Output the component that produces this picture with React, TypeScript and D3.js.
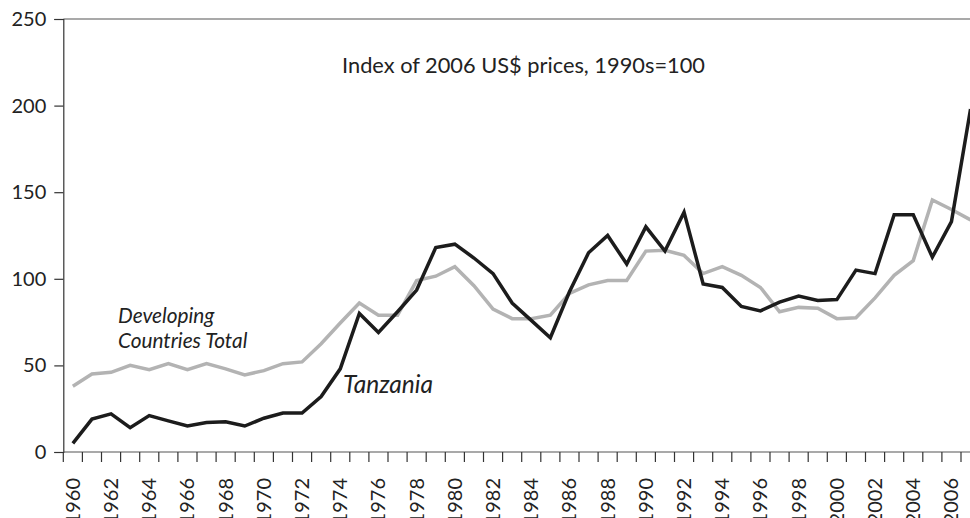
import { useEffect, useRef } from 'react';
import * as d3 from 'd3';

// years on the x axis, 1960-2007
const years = [
  1960, 1961, 1962, 1963, 1964, 1965, 1966, 1967, 1968, 1969,
  1970, 1971, 1972, 1973, 1974, 1975, 1976, 1977, 1978, 1979,
  1980, 1981, 1982, 1983, 1984, 1985, 1986, 1987, 1988, 1989,
  1990, 1991, 1992, 1993, 1994, 1995, 1996, 1997, 1998, 1999,
  2000, 2001, 2002, 2003, 2004, 2005, 2006, 2007,
];

const tanzania = [
  5, 19, 22, 14, 21, 18, 15, 17, 17.5, 15,
  19.5, 22.5, 22.5, 32, 48, 80, 69, 81, 93.5, 118,
  120, 112, 103, 86, 76, 66, 92.5, 115, 125, 108.5,
  130, 116, 138.5, 97, 95, 84, 81.5, 86.5, 90, 87.5,
  88, 105, 103, 137, 137, 112.5, 133, 198,
];

const developing = [
  38, 45, 46, 50, 47.5, 51, 47.5, 51, 48, 44.5,
  47, 51, 52, 62.5, 74.5, 86, 79, 79, 99, 101.5,
  107, 96, 82.5, 77, 77, 79, 91.5, 96.5, 99, 99,
  116, 116.5, 113.5, 103, 107, 102, 95, 81, 83.5, 83,
  77, 77.5, 89, 102, 110.5, 145.5, 140, 134,
];

const yTicks = [0, 50, 100, 150, 200, 250];
const xLabels = years.filter(y => y % 2 === 0 && y <= 2006);

const FONT = 'Lato, "Open Sans", sans-serif';

const App = () => {
  const ref = useRef<SVGSVGElement>(null);

  useEffect(() => {
    const svg = d3.select(ref.current);
    svg.selectAll('*').remove();

    const width = 970;
    const height = 518;
    const left = 63.3;
    const step = 19.1;
    const top = 19;
    const bottom = 452;

    const x = d3.scaleBand<number>()
      .domain(years)
      .range([left, left + step * years.length]);
    const y = d3.scaleLinear().domain([0, 250]).range([bottom, top]);

    svg.attr('width', width).attr('height', height);

    // frame: top line + y axis + x axis
    svg.append('line')
      .attr('x1', left).attr('x2', width)
      .attr('y1', y(250)).attr('y2', y(250))
      .attr('stroke', '#555').attr('stroke-width', 1.2);

    const yAxis = svg.append('g')
      .attr('transform', `translate(${left},0)`)
      .call(d3.axisLeft(y).tickValues(yTicks).tickSize(9).tickPadding(8));
    yAxis.select('.domain').attr('stroke', '#333').attr('stroke-width', 1.2);
    yAxis.selectAll('.tick line').attr('stroke', '#333').attr('stroke-width', 1.2);
    yAxis.selectAll('.tick text')
      .attr('fill', '#222')
      .style('font', `20px ${FONT}`);

    // x axis: ticks sit on the band edges, labels centred in the bands
    const xg = svg.append('g').attr('transform', `translate(0,${bottom})`);
    xg.append('line')
      .attr('x1', left).attr('x2', width)
      .attr('stroke', '#555').attr('stroke-width', 1.2);
    xg.selectAll('line.tk')
      .data(years)
      .join('line')
      .attr('class', 'tk')
      .attr('x1', d => x(d)!).attr('x2', d => x(d)!)
      .attr('y1', 0).attr('y2', 10)
      .attr('stroke', '#333').attr('stroke-width', 1.2);
    xg.selectAll('text')
      .data(xLabels)
      .join('text')
      .attr('transform', d => `translate(${x(d)! + x.bandwidth() / 2},26) rotate(-90)`)
      .attr('text-anchor', 'end')
      .attr('dy', '0.35em')
      .attr('fill', '#222')
      .style('font', `20px ${FONT}`)
      .text(d => d);

    const line = (vals: number[]) => d3.line<number>()
      .x((_, i) => x(years[i])! + x.bandwidth() / 2)
      .y(d => y(d))(vals);

    svg.append('path')
      .attr('d', line(developing))
      .attr('fill', 'none')
      .attr('stroke', '#b3b3b3')
      .attr('stroke-width', 3.5)
      .attr('stroke-linejoin', 'miter');

    svg.append('path')
      .attr('d', line(tanzania))
      .attr('fill', 'none')
      .attr('stroke', '#1c1c1c')
      .attr('stroke-width', 3.5)
      .attr('stroke-linejoin', 'miter');

    // annotations
    svg.append('text')
      .attr('x', 523.5).attr('y', 73)
      .attr('text-anchor', 'middle')
      .attr('fill', '#222')
      .style('font', `21.8px ${FONT}`)
      .text('Index of 2006 US$ prices, 1990s=100');

    const dev = svg.append('text')
      .attr('fill', '#222')
      .style('font', `italic 20.8px ${FONT}`);
    dev.append('tspan').attr('x', 118).attr('y', 323).text('Developing');
    dev.append('tspan').attr('x', 118).attr('y', 348).text('Countries Total');

    svg.append('text')
      .attr('x', 343).attr('y', 393)
      .attr('fill', '#222')
      .style('font', `italic 24.5px ${FONT}`)
      .text('Tanzania');
  }, []);

  return (
    <svg ref={ref} style={{ position: 'absolute', left: 0, top: 0 }} />
  );
};

export default App;
